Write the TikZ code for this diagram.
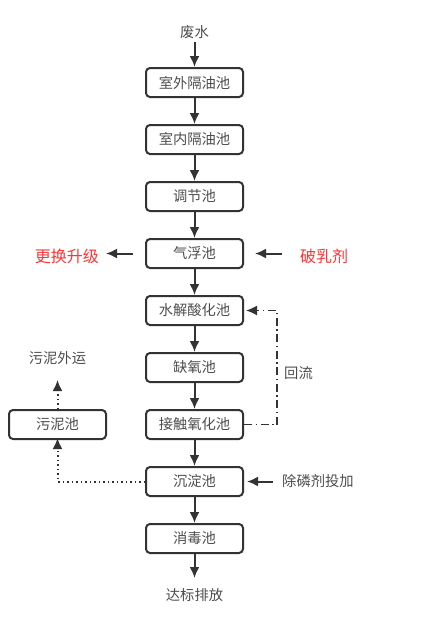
\documentclass[tikz,border=0pt]{standalone}
\usepackage{fontspec}
\setmainfont{Noto Sans CJK SC}
\usetikzlibrary{positioning,arrows.meta}
\tikzset{>=Latex}
\definecolor{boxline}{RGB}{51,51,51}
\definecolor{txt}{RGB}{77,77,77}
\definecolor{redtxt}{RGB}{255,51,51}
\tikzset{
  pool/.style={draw=boxline,line width=2pt,rounded corners=4pt,minimum width=97pt,minimum height=29pt,inner sep=0pt,text=txt,font=\fontsize{14.3}{16}\selectfont},
  lbl/.style={inner sep=1pt,text=txt,font=\fontsize{14.3}{16}\selectfont},
  redlbl/.style={lbl,text=redtxt,font=\fontsize{16}{18}\selectfont},
  flow/.style={->,line width=2pt,draw=boxline,>={Latex[length=11pt,width=10pt]}},
}

\begin{document}
\begin{tikzpicture}[x=1pt,y=-1pt,node distance=26pt]
\useasboundingbox (0,0) rectangle (436,638);
% main line
\node[pool] (B1) at (194.5,82.5) {室外隔油池};
\node[pool,below=of B1] (B2) {室内隔油池};
\node[pool,below=of B2] (B3) {调节池};
\node[pool,below=of B3] (B4) {气浮池};
\node[pool,below=of B4] (B5) {水解酸化池};
\node[pool,below=of B5] (B6) {缺氧池};
\node[pool,below=of B6] (B7) {接触氧化池};
\node[pool,below=of B7] (B8) {沉淀池};
\node[pool,below=of B8] (B9) {消毒池};
\node[lbl,above=27pt of B1] (ww) {废水};
\node[lbl,below=33pt of B9] (out) {达标排放};
\draw[flow,shorten <=2pt] (ww) -- (B1);
\foreach \a/\b in {B1/B2,B2/B3,B3/B4,B4/B5,B5/B6,B6/B7,B7/B8,B8/B9}
  \draw[flow] (\a) -- (\b);
\draw[flow,shorten >=9pt] (B9) -- (out);
% side inputs and outputs
\node[redlbl,left=45pt of B4,yshift=-3pt] (up) {更换升级};
\node[redlbl,right=55pt of B4,yshift=-3pt] (dm) {破乳剂};
\draw[flow,shorten <=12pt,shorten >=6pt] (B4.west) -- (B4.west -| up.east);
\draw[flow,shorten <=17pt,shorten >=11pt] (dm.west |- B4.east) -- (B4.east);
\node[lbl,right=37pt of B8] (dp) {除磷剂投加};
\draw[flow,shorten <=8pt,shorten >=3pt] (dp.west |- B8.east) -- (B8.east);
% reflux
\draw[flow,line width=1.7pt,dash pattern=on 8pt off 3.5pt on 1.5pt off 3.5pt,shorten >=2pt] (B7.east) -- ++(33,0) |- (B5.east);
\node[lbl,right=39pt of B6,yshift=-6pt] (rf) {回流};
% sludge
\node[pool,left=38pt of B7] (sl) {污泥池};
\node[lbl,above=43pt of sl] (slo) {污泥外运};
\draw[flow,dash pattern=on 1.5pt off 3pt,shorten >=14pt] (sl) -- (slo);
\draw[flow,dash pattern=on 1.5pt off 3pt,shorten >=-2pt] (B8.west) -| (sl.south);
\end{tikzpicture}
\end{document}
